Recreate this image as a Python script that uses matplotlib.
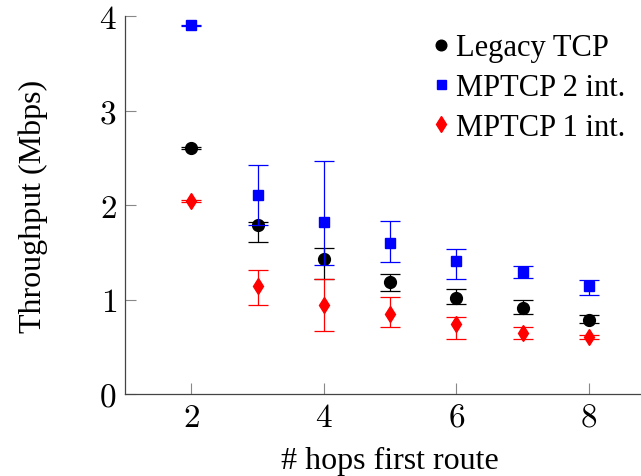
import numpy as np
import matplotlib
matplotlib.use('Agg')
import matplotlib.pyplot as plt

hops = [2, 3, 4, 5, 6, 7, 8]

# mean, lower bound, upper bound of the error bars
tcp_mean = [2.60, 1.79, 1.43, 1.19, 1.02, 0.91, 0.78]
tcp_lo = [2.59, 1.61, 1.22, 1.09, 0.95, 0.85, 0.755]
tcp_hi = [2.61, 1.82, 1.54, 1.27, 1.11, 0.99, 0.84]

mp2_mean = [3.90, 2.11, 1.82, 1.595, 1.41, 1.29, 1.14]
mp2_lo = [3.89, 1.79, 1.36, 1.40, 1.22, 1.23, 1.05]
mp2_hi = [3.91, 2.42, 2.47, 1.83, 1.53, 1.355, 1.21]

mp1_mean = [2.04, 1.14, 0.945, 0.85, 0.74, 0.65, 0.60]
mp1_lo = [2.03, 0.945, 0.667, 0.705, 0.58, 0.58, 0.58]
mp1_hi = [2.05, 1.315, 1.22, 1.03, 0.81, 0.705, 0.625]

labels = ['Legacy TCP', 'MPTCP 2 int.', 'MPTCP 1 int.']
colors = ['black', 'blue', 'red']
markers = ['o', 's', 'd']
msizes = [8.5, 7.2, 8.5]

plt.rcParams['font.family'] = ['Liberation Serif', 'DejaVu Serif']
plt.rcParams['mathtext.fontset'] = 'cm'

fig = plt.figure(figsize=(6.41, 4.77), dpi=100)
# the axis runs on past the right edge of the picture (x up to 9)
ax = fig.add_axes([125 / 641, 82 / 477, 530 / 641, 378 / 477])

series = [(tcp_mean, tcp_lo, tcp_hi), (mp2_mean, mp2_lo, mp2_hi), (mp1_mean, mp1_lo, mp1_hi)]
for (m, lo, hi), lab, c, mk, ms in zip(series, labels, colors, markers, msizes):
    m = np.array(m)
    yerr = np.vstack([m - np.array(lo), np.array(hi) - m])
    ax.errorbar(hops, m, yerr=yerr, fmt='none', ecolor=c,
                elinewidth=0.9, capsize=7, capthick=0.9)
    ax.plot(hops, m, linestyle='none', marker=mk, color=c, markersize=ms, label=lab)

ax.set_xlim(1, 9)
ax.set_ylim(0, 4)
ax.set_xticks([2, 4, 6, 8])
ax.set_xticklabels([f'${t}$' for t in [2, 4, 6, 8]])
ax.set_yticks([0, 1, 2, 3, 4])
ax.set_yticklabels([f'${t}$' for t in [0, 1, 2, 3, 4]])
ax.tick_params(direction='in', length=8, width=0.8, color='#888888', labelsize=24, pad=6)

for side in ['top', 'right']:
    ax.spines[side].set_visible(False)
for side in ['left', 'bottom']:
    ax.spines[side].set_color('#444444')
    ax.spines[side].set_linewidth(0.9)

ax.set_xlabel('# hops first route', fontsize=23)
ax.set_ylabel('Throughput (Mbps)', fontsize=23)
ax.xaxis.set_label_coords(0.5, -0.175)
ax.xaxis.label.set_va('center')
ax.yaxis.set_label_coords(-0.174, 0.5)
ax.yaxis.label.set_va('center')

ax.legend(loc='upper left', frameon=False, fontsize=22, handletextpad=0.2,
          handlelength=0.6, labelspacing=0.35, borderpad=0, borderaxespad=0,
          markerscale=0.9, bbox_to_anchor=(0.578, 0.954))

fig.savefig('out.png', dpi=100)
